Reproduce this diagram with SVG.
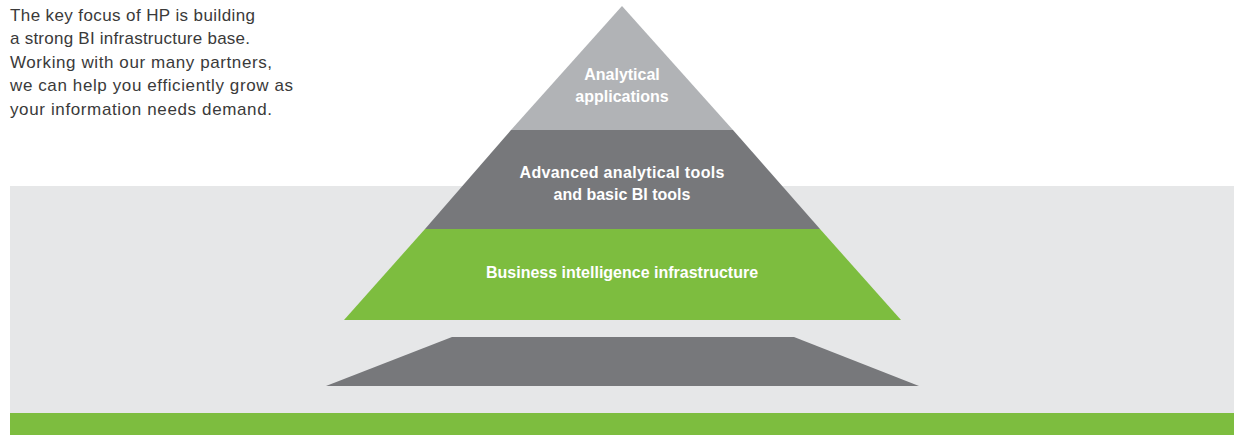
<svg xmlns="http://www.w3.org/2000/svg" width="1236" height="435" viewBox="0 0 1236 435">
<style>
.intro{font-family:"Liberation Sans",Arial,sans-serif;font-size:17px;fill:#3a3a3a}
.lbl{font-family:"Liberation Sans",Arial,sans-serif;font-size:16px;font-weight:bold;fill:#ffffff;text-anchor:middle}
</style>
<rect width="1236" height="435" fill="#ffffff"/>
<g id="background">
<rect x="10" y="186" width="1224" height="227" fill="#e6e7e8"/>
<rect x="10" y="413" width="1224" height="22" fill="#7dbd3f"/>
</g>
<g id="intro-text">
<text class="intro" x="10" y="21" textLength="245">The key focus of HP is building</text>
<text class="intro" x="10" y="44" textLength="240">a strong BI infrastructure base.</text>
<text class="intro" x="10" y="68" textLength="262">Working with our many partners,</text>
<text class="intro" x="10" y="91" textLength="283">we can help you efficiently grow as</text>
<text class="intro" x="10" y="115" textLength="262">your information needs demand.</text>
</g>
<g id="analytical-applications">
<polygon points="622,6 733,130 511,130" fill="#b1b3b6"/>
<text class="lbl" x="622" y="80">Analytical</text>
<text class="lbl" x="622" y="102">applications</text>
</g>
<g id="advanced-tools">
<polygon points="511,130 733,130 820,229 425,229" fill="#77787b"/>
<text class="lbl" x="622" y="178" textLength="205">Advanced analytical tools</text>
<text class="lbl" x="622" y="200">and basic BI tools</text>
</g>
<g id="bi-infrastructure">
<polygon points="425,229 820,229 901,320 344,320" fill="#7dbd3f"/>
<text class="lbl" x="622" y="278">Business intelligence infrastructure</text>
</g>
<g id="base">
<polygon points="452,337 794,337 919,386 326,386" fill="#77787b"/>
</g>
<g id="connectors"></g>
</svg>
